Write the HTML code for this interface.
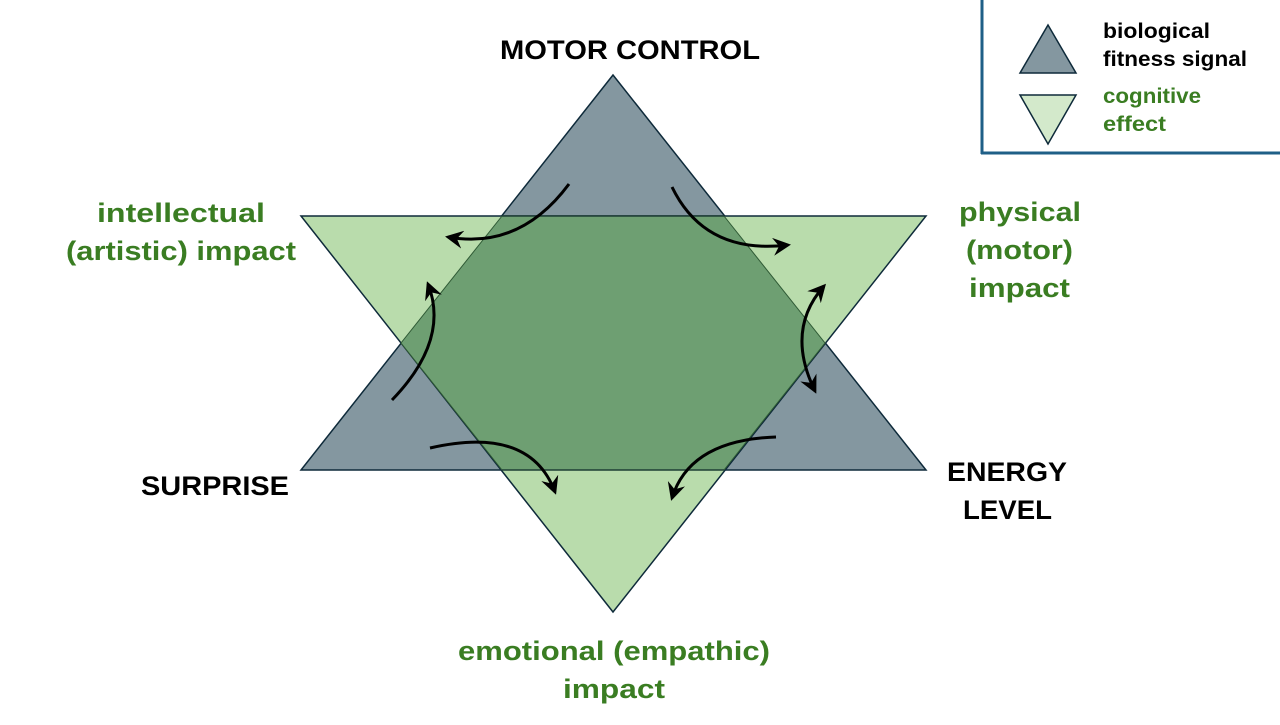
<!DOCTYPE html>
<html><head><meta charset="utf-8"><style>
body{margin:0;background:#fff;}
svg text{font-family:"Liberation Sans",sans-serif;font-weight:bold;}
</style></head><body>
<svg width="1280" height="720" viewBox="0 0 1280 720" xmlns="http://www.w3.org/2000/svg">
<defs>
<marker id="a" viewBox="0 0 12 12" refX="10" refY="6" markerWidth="18" markerHeight="18" orient="auto-start-reverse" markerUnits="userSpaceOnUse">
<path d="M0,0 L12,6 L0,12 L4,6 Z" fill="#000"/>
</marker>
</defs>
<polygon points="613,75 926,470 301,470" fill="#8497a0" stroke="#0e2a3a" stroke-width="1.5"/>
<polygon points="301,216 926,216 613,612" fill="#b9dcac" stroke="#0e2a3a" stroke-width="1.5"/>
<polygon points="502,216 724,216 825,343 724,470 502,470 401,343" fill="#6e9f72" stroke="none"/>
<polyline points="502,216 401,343 502,470" fill="none" stroke="#2f5a35" stroke-width="1"/>
<polyline points="724,216 825,343 724,470" fill="none" stroke="#2f5a35" stroke-width="1"/>
<line x1="502" y1="216" x2="724" y2="216" stroke="#1e3e34" stroke-width="1.5"/>
<line x1="502" y1="470" x2="724" y2="470" stroke="#1e3e34" stroke-width="1.5"/>
<g fill="none" stroke="#000" stroke-width="3" marker-end="url(#a)">
<path d="M569,184 Q520,250 448,237"/>
<path d="M672,187 Q705,255 788,245"/>
<path d="M392,400 Q450,340 428,284"/>
<path d="M815,391 Q785,330 824,286" marker-start="url(#a)"/>
<path d="M430,448 Q530,425 555,492"/>
<path d="M776,437 Q690,440 672,498"/>
</g>
<g font-size="27" lengthAdjust="spacingAndGlyphs">
<text x="500" y="59" textLength="260" lengthAdjust="spacingAndGlyphs" fill="#000">MOTOR CONTROL</text>
<text x="141" y="495" textLength="148" lengthAdjust="spacingAndGlyphs" fill="#000">SURPRISE</text>
<text x="947" y="481" textLength="120" lengthAdjust="spacingAndGlyphs" fill="#000">ENERGY</text>
<text x="963" y="519" textLength="89" lengthAdjust="spacingAndGlyphs" fill="#000">LEVEL</text>
<g fill="#3a7d22">
<text x="97" y="222" textLength="168" lengthAdjust="spacingAndGlyphs">intellectual</text>
<text x="66" y="260" textLength="230" lengthAdjust="spacingAndGlyphs">(artistic) impact</text>
<text x="959" y="221" textLength="122" lengthAdjust="spacingAndGlyphs">physical</text>
<text x="966" y="259" textLength="107" lengthAdjust="spacingAndGlyphs">(motor)</text>
<text x="969" y="297" textLength="101" lengthAdjust="spacingAndGlyphs">impact</text>
<text x="458" y="660" textLength="312" lengthAdjust="spacingAndGlyphs">emotional (empathic)</text>
<text x="563" y="698" textLength="102" lengthAdjust="spacingAndGlyphs">impact</text>
</g>
</g>
<line x1="982" y1="0" x2="982" y2="154" stroke="#1f5f87" stroke-width="3"/>
<line x1="981" y1="153" x2="1280" y2="153" stroke="#1f5f87" stroke-width="3"/>
<polygon points="1048,25 1076,73 1020,73" fill="#8497a0" stroke="#0e2a3a" stroke-width="1.5"/>
<polygon points="1020,95 1076,95 1048,144" fill="#d3e9cb" stroke="#0e2a3a" stroke-width="1.5"/>
<g font-size="21">
<text x="1103" y="38" textLength="107" lengthAdjust="spacingAndGlyphs" fill="#000">biological</text>
<text x="1103" y="66" textLength="144" lengthAdjust="spacingAndGlyphs" fill="#000">fitness signal</text>
<text x="1103" y="103" textLength="98" lengthAdjust="spacingAndGlyphs" fill="#3a7d22">cognitive</text>
<text x="1103" y="131" textLength="63" lengthAdjust="spacingAndGlyphs" fill="#3a7d22">effect</text>
</g>
</svg>
</body></html>
